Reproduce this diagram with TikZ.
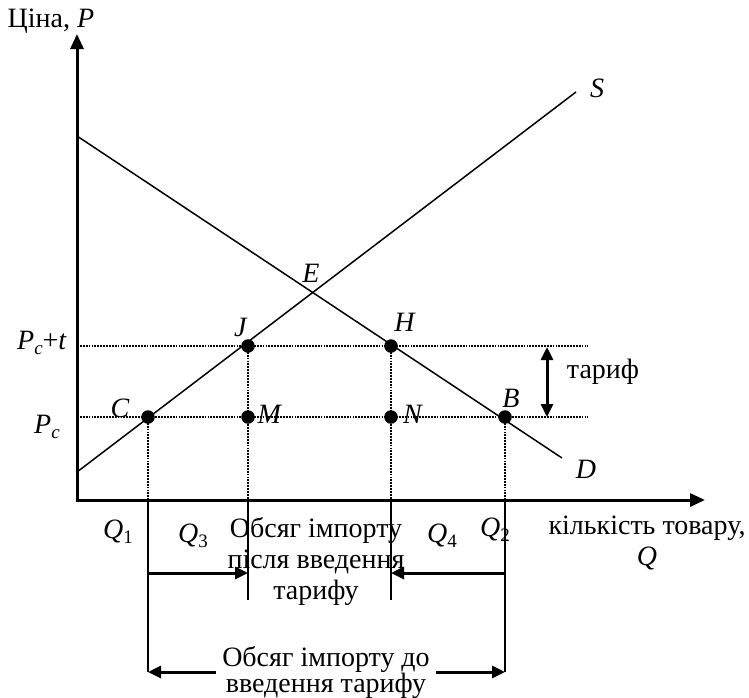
\documentclass[tikz,border=0pt]{standalone}
\usepackage{fontspec}
\setmainfont{Liberation Serif}
\usetikzlibrary{arrows.meta}
\newcommand{\lsub}[1]{\raisebox{-0.4ex}{\fontsize{19}{19}\selectfont #1}}
\tikzset{
  axisline/.style={line width=3pt},
  curve/.style={line width=1.5pt},
  dotline/.style={line width=2.4pt, dash pattern=on 1.8pt off 1.1pt},
  guide/.style={line width=1.5pt},
  bigarrow/.style={line width=3pt, -{Triangle[length=13pt,width=12pt]}},
  dblarrow/.style={line width=3pt, {Triangle[length=13pt,width=12pt]}-{Triangle[length=13pt,width=12pt]}},
  pt/.style={circle, fill=black, inner sep=0pt, minimum size=13.5pt},
  lbl/.style={inner sep=0pt},
}
\begin{document}
\begin{tikzpicture}[x=1pt,y=-1pt,font=\fontsize{28}{31}\selectfont]
\useasboundingbox (0,0) rectangle (749,697);
% axes
\coordinate (Ytop) at (77,34);
\coordinate (O) at (77,500);
\coordinate (Xend) at (705,500);
\draw[axisline,{Triangle[length=15pt,width=13pt]}-{Triangle[length=15pt,width=13pt]}] (Ytop) -- (O) -- (Xend);
\node[lbl] (ylab) at (51,21) {Ціна, \textit{P}};
% supply and demand
\coordinate (D0) at (77,136);
\coordinate (D1) at (562,458);
\coordinate (S0) at (77,472);
\coordinate (S1) at (576,92);
\draw[curve] (D0) -- (D1);
\draw[curve] (S0) -- (S1);
\node[lbl] (Slab) at (597,88) {\textit{S}};
\node[lbl] (Dlab) at (586,469) {\textit{D}};
\node[lbl] (Elab) at (311,273) {\textit{E}};
% price lines
\coordinate (Pt0) at (77,346);
\coordinate (Pt1) at (588,346);
\coordinate (Pc0) at (77,417);
\coordinate (Pc1) at (588,417);
\draw[dotline] (Pt0) -- (Pt1);
\draw[dotline] (Pc0) -- (Pc1);
\node[lbl] (Ptlab) at (42,343) {\textit{P}\lsub{\textit{c}}+\textit{t}};
\node[lbl] (Pclab) at (47,427) {\textit{P}\lsub{\textit{c}}};
% axis foot points
\coordinate (Cx) at (148,500);
\coordinate (Jx) at (248,500);
\coordinate (Hx) at (391,500);
\coordinate (Bx) at (505,500);
% vertical dotted
\draw[dotline] (148,417) -- (Cx);
\draw[dotline] (248,346) -- (Jx);
\draw[dotline] (391,346) -- (Hx);
\draw[dotline] (505,417) -- (Bx);
% solid guides below axis
\coordinate (Cb) at (148,672);
\coordinate (Bb) at (505,672);
\coordinate (Jb) at (248,600);
\coordinate (Hb) at (391,600);
\draw[guide] (Cx) -- (Cb);
\draw[guide] (Bx) -- (Bb);
\draw[guide] (Jx) -- (Jb);
\draw[guide] (Hx) -- (Hb);
% points
\node[pt] (C) at (148,417) {};
\node[pt] (M) at (248,417) {};
\node[pt] (N) at (391,417) {};
\node[pt] (B) at (505,417) {};
\node[pt] (J) at (248,346) {};
\node[pt] (H) at (391,346) {};
\node[lbl] (Clab) at (120,408) {\textit{C}};
\node[lbl] (Mlab) at (270,414) {\textit{M}};
\node[lbl] (Nlab) at (413,414) {\textit{N}};
\node[lbl] (Blab) at (511,398) {\textit{B}};
\node[lbl] (Jlab) at (241,327) {\textit{J}};
\node[lbl] (Hlab) at (405,322) {\textit{H}};
% tariff
\coordinate (T0) at (547,347);
\coordinate (T1) at (547,417);
\draw[dblarrow] (T0) -- (T1);
\node[lbl] (Tlab) at (603,372) {тариф};
% Q labels
\node[lbl] (Q1) at (118,532) {\textit{Q}\lsub{1}};
\node[lbl] (Q3) at (193,536) {\textit{Q}\lsub{3}};
\node[lbl] (Q4) at (442,536) {\textit{Q}\lsub{4}};
\node[lbl] (Q2) at (495,530) {\textit{Q}\lsub{2}};
\node[lbl,align=center] (Xlab) at (647,543) {кількість товару,\\\textit{Q}};
% import after tariff
\node[lbl,align=center] (after) at (316,561) {Обсяг імпорту\\після введення\\тарифу};
\coordinate (A0) at (148,573);
\coordinate (A1) at (505,573);
\draw[bigarrow] (A0) -- (Jb |- A0);
\draw[bigarrow] (A1) -- (Hb |- A1);
% import before tariff
\node[lbl,align=center,inner xsep=6pt,font=\fontsize{28}{26}\selectfont] (before) at (326,672) {Обсяг імпорту до\\введення тарифу};
\draw[bigarrow] (before.west) -- (Cb);
\draw[bigarrow] (before.east) -- (Bb);
\end{tikzpicture}
\end{document}
